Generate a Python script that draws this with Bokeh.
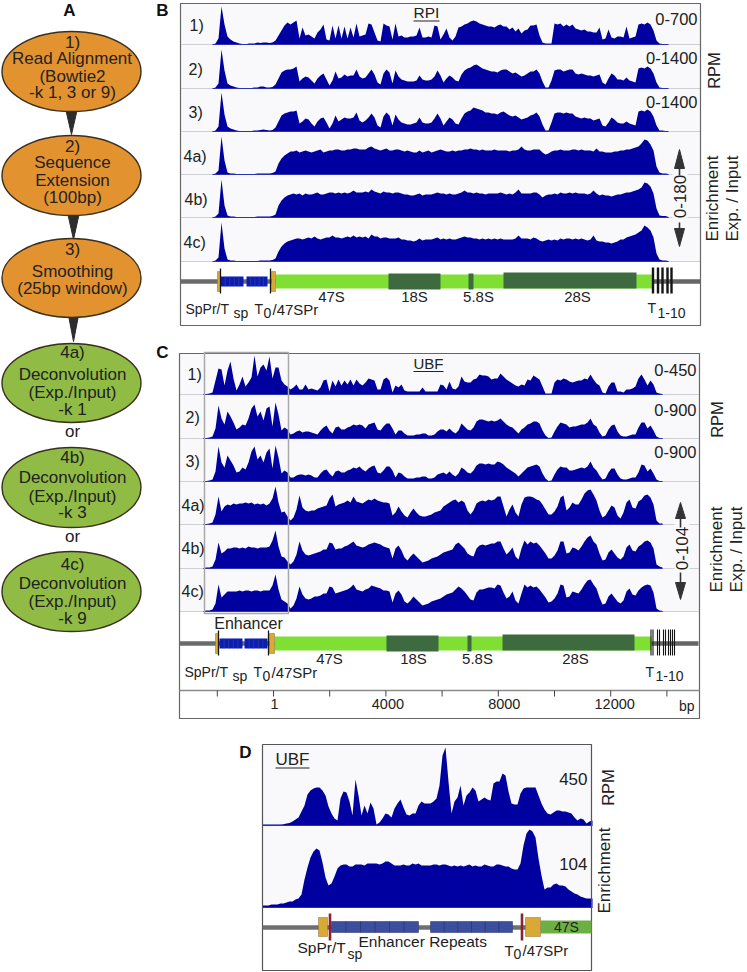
import numpy as np
from bokeh.core.properties import value
from bokeh.embed import file_html
from bokeh.models import Range1d
from bokeh.plotting import figure
from bokeh.resources import INLINE

# ---- signal tracks (height units, one value per bin)
B1 = [0,1,6,38,20,8,5,3,2,1,
 0.5,0,1,1,1,2,1.5,2,2,1.5,
 2,4,9,14,19,22,20,22,24,6,
 17,9,10,8,6,12,15,20,5,4,
 19,6,19,6,18,6,17,7,21,8,
 9,10,21,20,12,4,3,21,19,18,
 5,21,8,9,7,7,8,8,9,17,
 7,7,8,7,19,18,5,10,16,7,
 4,8,17,18,20,21,23,24,23,21,
 20,19,18,18,17,19,20,18,18,15,
 17,13,16,11,14,15,19,19,20,9,
 2,1,1,1,21,20,21,18,20,18,
 20,16,15,14,15,13,13,12,12,17,
 5,6,15,7,6,8,8,7,18,6,
 7,8,20,21,20,22,20,14,4,1,
 0.5,0.5,0]
B2 = [0,1,5,39,18,5,3,2,1,0.5,
 0.5,0,0.5,0.5,1,1,2,2,1,1,
 1.5,4,10,16,18,19,19,20,22,7,
 10,12,11,8,5,10,13,15,9,3,
 8,17,10,11,14,12,13,13,19,12,
 10,11,15,19,14,6,4,15,19,16,
 5,18,12,9,8,7,7,7,8,13,
 9,8,8,9,12,18,13,6,10,13,
 11,8,7,14,18,20,21,23,24,22,
 20,19,18,17,17,16,18,19,19,17,
 15,16,14,12,13,15,17,17,19,15,
 7,1,1,8,18,19,19,17,18,19,
 19,15,14,15,14,13,13,12,13,14,
 6,4,10,15,13,9,9,8,11,8,
 7,6,20,21,20,22,20,15,6,1,
 0.5,0.5,0]
B3 = [0,1,5,39,17,5,3,2,1,0.5,
 0.5,0,0.5,0.5,1,1,1.5,2,1.5,1,
 1.5,4,10,16,18,19,20,20,21,8,
 10,13,12,8,5,10,13,14,9,3,
 8,16,10,12,14,13,13,14,19,11,
 9,11,14,18,14,6,4,15,19,16,
 6,17,12,9,8,7,7,8,9,14,
 9,8,8,9,13,18,13,6,10,14,
 12,8,7,13,18,20,21,24,23,22,
 21,19,19,18,18,17,19,20,18,16,
 15,16,14,12,13,14,16,17,19,15,
 7,1,1,9,18,19,19,18,19,18,
 18,15,14,13,14,13,13,11,12,13,
 6,5,9,14,12,9,8,8,10,8,
 7,6,20,21,20,22,20,15,6,1,
 1,0.5,0]
B4A = [0,1,4,38,14,2,1,1,0.5,0.5,
 0.5,0.5,0.5,0.5,0.5,1,1,1,1,1,
 1.5,3,11,16,19,21,23,23,24,22,
 23,24,23,22,23,24,25,22,23,24,
 24,25,25,24,24,25,25,26,26,25,
 25,25,27,28,26,25,24,25,26,24,
 24,25,25,24,23,24,23,22,22,24,
 22,23,24,22,23,24,25,24,23,23,
 24,23,24,24,25,25,26,25,25,24,
 25,24,24,24,25,24,24,24,24,23,
 24,24,25,28,25,24,24,25,25,25,
 22,20,21,23,24,24,25,24,24,24,
 25,25,24,25,24,24,24,23,26,23,
 23,22,22,22,23,23,24,24,25,25,
 26,27,28,31,35,34,30,24,8,2,
 1,1,0.5]
B4B = [0,1,4,38,12,2,1,1,0.5,0.5,
 0.5,0.5,0.5,0.5,0.5,1,1,1,1,1,
 1.5,3,12,17,20,22,23,24,23,24,
 22,24,23,23,24,25,23,23,24,25,
 25,24,25,24,25,24,25,27,25,25,
 25,26,25,28,26,25,24,26,25,25,
 24,25,25,24,23,23,22,22,23,24,
 22,23,23,23,24,25,24,24,23,24,
 23,23,24,25,27,25,25,24,25,24,
 24,23,24,24,24,24,25,24,23,24,
 23,25,28,24,24,24,24,25,25,23,
 20,22,23,23,24,23,25,24,24,25,
 24,25,24,24,24,23,24,27,24,22,
 23,22,22,21,22,23,23,24,25,25,
 26,27,28,30,35,34,31,24,9,2,
 1.5,1.5,0.5]
B4C = [0,1,4,39,13,2,1,1,0.5,0.5,
 0.5,0.5,0.5,0.5,0.5,0.5,1,1,1,1,
 1.5,3,10,15,18,20,21,22,23,23,
 22,23,24,23,25,23,22,23,24,24,
 26,24,24,23,24,25,24,26,24,25,
 24,25,23,27,25,25,23,24,24,23,
 23,23,24,22,22,21,21,20,21,23,
 21,22,22,22,23,24,22,23,22,23,
 22,22,23,24,25,24,24,23,23,22,
 23,22,23,22,23,22,23,22,22,22,
 22,23,26,23,23,23,22,24,23,21,
 20,21,22,21,22,21,23,22,23,23,
 22,23,22,23,22,21,22,26,21,20,
 20,19,19,18,19,20,22,22,24,25,
 26,27,29,31,36,34,31,24,8,2,
 1,1,0.5]
C1 = [0.5,0.5,1,2,14,26,25,9,24,33,
 16,4,10,18,8,12,17,39,18,27,
 30,24,38,16,27,27,14,10,8,5,
 7,10,5,5,10,5,6,5,4,7,
 14,15,3,14,8,15,9,14,10,15,
 9,15,11,9,12,16,15,14,5,5,
 15,17,14,2,9,7,10,4,3,3,
 3,3,3,7,3,3,3,3,3,10,
 9,5,13,6,5,8,18,13,12,12,
 15,16,20,19,19,18,15,16,16,21,
 18,15,13,11,9,8,10,9,15,14,
 19,17,15,8,1,1,1,12,15,14,
 16,15,13,12,13,14,14,16,15,20,
 15,11,9,2,1,8,12,12,3,3,
 2,5,5,6,8,16,20,15,9,14,
 10,2,1,0.5]
C2 = [0.5,0.5,1,2,10,33,20,14,27,22,
 16,9,11,14,13,20,30,34,22,27,
 18,30,32,12,36,24,8,11,9,4,
 5,7,8,6,7,7,6,5,4,8,
 11,13,8,5,11,12,9,9,11,12,
 14,13,14,13,10,14,15,16,9,8,
 12,15,15,10,4,8,8,5,3,3,
 3,4,4,5,5,3,3,4,7,9,
 9,7,10,7,5,8,15,12,9,8,
 11,17,19,19,18,17,18,17,18,20,
 17,14,12,11,8,5,9,11,14,15,
 17,17,15,8,3,0.5,1,7,12,16,
 15,14,11,12,12,13,14,14,16,20,
 14,12,6,2,3,9,13,14,7,3,
 2,2,3,4,4,11,16,16,10,13,
 8,2,0.5,0.5]
C3 = [0.5,0.5,1,2,10,35,19,14,26,21,
 16,9,10,14,12,19,30,35,22,26,
 19,29,33,13,36,24,8,11,9,4,
 4,6,7,7,6,7,6,4,4,8,
 11,12,8,5,10,11,9,9,11,12,
 14,13,15,12,10,13,15,16,9,8,
 11,15,15,11,4,9,8,5,3,3,
 3,4,4,5,5,3,3,4,7,8,
 9,7,10,7,5,8,14,12,9,8,
 11,16,18,18,17,18,17,17,20,19,
 17,14,12,10,8,5,8,11,14,15,
 16,17,15,8,3,0.5,1,7,12,15,
 14,14,11,11,12,13,14,13,15,20,
 14,11,6,2,3,9,13,13,7,3,
 2,2,3,4,4,9,17,16,10,13,
 8,2,0.5,0.5]
C4A = [0.5,0.5,1,2,10,28,13,18,20,19,
 21,20,21,21,22,21,22,20,21,20,
 21,19,21,26,38,22,12,13,8,4,
 7,15,29,17,14,13,14,14,16,17,
 18,19,26,30,18,20,21,22,24,22,
 28,23,22,21,23,25,24,26,24,23,
 22,22,21,9,12,18,13,9,7,12,
 16,12,9,8,8,9,10,12,13,14,
 18,20,22,24,25,22,24,22,14,10,
 14,21,23,24,23,25,24,25,28,28,
 18,8,15,20,12,8,20,27,28,28,
 27,25,24,20,15,10,10,13,18,27,
 29,14,17,22,20,20,25,31,34,35,
 30,24,14,7,9,14,19,17,9,6,
 12,22,25,17,16,23,25,29,30,27,
 20,4,1,1]
C4B = [0.5,1,1,2,9,26,15,17,20,20,
 21,21,20,21,20,22,21,21,20,21,
 21,21,22,28,38,22,12,11,7,4,
 7,14,27,18,14,13,14,15,16,17,
 19,19,26,25,19,20,20,22,23,25,
 27,23,22,21,22,24,25,26,25,24,
 22,21,20,10,20,23,18,11,8,12,
 15,12,9,6,7,8,10,11,12,14,
 16,17,18,19,24,26,23,20,15,13,
 12,20,23,24,23,24,25,25,27,27,
 20,14,17,21,12,9,20,28,24,27,
 25,26,23,19,15,10,10,13,18,27,
 27,15,16,21,20,18,22,27,31,33,
 27,24,15,8,9,16,19,15,11,9,
 12,21,24,18,17,22,24,27,28,26,
 20,4,2,1]
C4C = [0.5,1,1,2,8,27,14,17,20,20,
 20,20,21,20,21,21,20,21,21,20,
 21,21,21,26,37,22,12,10,8,3,
 6,13,25,17,13,12,13,15,15,16,
 18,18,25,24,18,19,20,21,22,24,
 27,22,21,20,22,23,26,25,24,23,
 21,21,20,9,18,21,17,10,8,11,
 15,12,9,6,7,8,10,11,12,13,
 15,17,18,19,22,25,23,20,16,12,
 11,19,22,22,23,24,24,23,27,26,
 19,13,15,20,11,8,18,27,24,26,
 24,25,22,18,14,9,10,13,18,27,
 26,14,15,20,19,18,22,27,31,32,
 27,23,14,7,8,15,18,14,10,8,
 11,20,23,17,16,21,24,26,27,26,
 19,3,1,0.5]
D_RPM = [1,1,1,1,1,1,1,1.3,2,2.5,4,6,8,14,20,31,35,37,38,38,35,30,19,12,7,5,27,34,33,24,10,46,30,10,20,12,23,17,1,3,
 7,12,11,8,17,22,26,18,11,10,12,12,20,24,22,22,22,24,27,40,70,78,44,12,24,28,40,20,30,33,38,35,24,26,28,26,25,42,44,44,
 52,50,34,22,21,21,32,37,38,38,38,38,30,22,16,12,11,13,15,15,14,14,13,12,8,5,7,6,2,4,5]
D_ENR = [2,2,2,3,3,3,4,4,5,6,6,8,9,13,28,40,50,56,59,57,45,30,22,24,31,39,42,43,43,41,41,43,43,43,42,44,44,44,44,43,
 44,46,46,44,42,42,42,43,42,42,44,43,44,42,42,42,42,43,43,42,43,43,42,41,42,41,42,41,42,43,41,42,41,41,43,42,41,41,43,43,
 42,41,41,39,38,38,44,62,74,78,76,70,49,32,18,20,20,23,24,22,22,21,18,16,14,13,11,10,9,9,9]

B_LABELS = ["1)", "2)", "3)", "4a)", "4b)", "4c)"]
B_RANGES = ["0-700", "0-1400", "0-1400"]
C_RANGES = ["0-450", "0-900", "0-900"]
AXIS_TICKS_BP = [-2000, 1, 2000, 4000, 6000, 8000, 10000, 12000, 14000]
AXIS_LABELS = {1: "1", 4000: "4000", 8000: "8000", 12000: "12000"}

W, H = 747, 972
p = figure(width=W, height=H, x_range=Range1d(0, W), y_range=Range1d(H, 0),
           x_axis_type=None, y_axis_type=None, toolbar_location=None,
           output_backend="svg", min_border=0, outline_line_color=None,
           background_fill_color="white", border_fill_color="white")
p.grid.visible = False

FONT = value("Liberation Sans")
INK = "#222222"
BLUE = "#0000a0"
GREEN = "#7fe033"
DKGREEN = "#3d6b3f"
YELLOW = "#d9a935"
BG = "#f9f9fb"


def t(x, y, s, size=14, align="left", base="alphabetic", bold=False, angle=0, color=INK):
    # y is the baseline ("alphabetic") or the visual centre ("middle") of the text
    yy = y - 0.36 * size if base == "alphabetic" else y
    if base == "middle" and angle == 0:
        yy = y - 2
    p.text(x=[x], y=[yy], text=[s], text_font=FONT, text_font_size=f"{size}px",
           text_align=align, text_baseline="middle", angle=angle, text_color=color,
           text_font_style="bold" if bold else "normal")


def box(l, r, top, bot, color, line=None, lw=1, alpha=1.0):
    p.quad(left=[l], right=[r], top=[top], bottom=[bot], fill_color=color, fill_alpha=alpha,
           line_color=line, line_width=lw)


def frame(l, r, top, bot, color, lw=1.2):
    p.quad(left=[l], right=[r], top=[top], bottom=[bot], fill_color=None,
           line_color=color, line_width=lw)


def seg(x0, y0, x1, y1, color, lw=1.0):
    p.segment(x0=[x0], y0=[y0], x1=[x1], y1=[y1], line_color=color, line_width=lw)


def track(vals, x0, step, base):
    v = np.asarray(vals, dtype=float)
    x = x0 + step * np.arange(len(v))
    p.varea(x=x, y1=np.full(len(v), base), y2=base - v, fill_color=BLUE)
    seg(x[0], base, x[-1], base, "#2a30b0", 1)


def arrow(x, tip, neck, end, color="#333333"):
    p.patch(x=[x - 5, x + 5, x], y=[neck, neck, tip], fill_color=color, line_color=color)
    seg(x, neck, x, end, color, 1.6)


# ---- Panel A: flow chart
ORANGE, LEAF = "#e39230", "#90bb45"
ELLIPSES = [(71, 71, 80, ORANGE), (71, 175, 80, ORANGE), (71, 277.5, 79, ORANGE),
            (71, 382.5, 79, LEAF), (71, 487, 80, LEAF), (71, 591, 80, LEAF)]
for (tx, ty0, ty1, half) in [(71, 108, 134, 6), (73, 212, 239, 6), (73, 315, 341, 5)]:
    p.patch(x=[tx - half, tx + half, tx], y=[ty0, ty0, ty1], fill_color="#2d2d2d", line_color="#2d2d2d")
for cx, cy, hh, col in ELLIPSES:
    p.ellipse(x=[cx], y=[cy], width=[139], height=[hh], fill_color=col, line_color="#3a3020", line_width=1.4)
FLOW = [(48, "1)"), (64, "Read Alignment"), (82, "(Bowtie2"), (98, "-k 1, 3 or 9)"),
        (152, "2)"), (168, "Sequence"), (186, "Extension"), (203, "(100bp)"),
        (255, "3)"), (277, "Smoothing"), (294, "(25bp window)"),
        (358, "4a)"), (380, "Deconvolution"), (398, "(Exp./Input)"), (415, "-k 1"),
        (437, "or"),
        (463, "4b)"), (483, "Deconvolution"), (502, "(Exp./Input)"), (518, "-k 3"),
        (542, "or"),
        (570, "4c)"), (589, "Deconvolution"), (607, "(Exp./Input)"), (624, "-k 9")]
for y, s in FLOW:
    t(72, y, s, 17, "center")
t(69, 16, "A", 17, "center", bold=True, color="#111111")
t(162, 16, "B", 17, "center", bold=True, color="#111111")
t(162, 358, "C", 17, "center", bold=True, color="#111111")
t(245, 758, "D", 17, "center", bold=True, color="#111111")


def schematic(cy, xs, dy=0):
    """Gene model: xs holds the feature edges of this panel."""
    seg(xs["l"], cy, xs["green"][0], cy, "#6b6b6b", 4.5)
    seg(xs["green"][1], cy, xs["r"], cy, "#666666", 4.5)
    box(xs["green"][0], xs["green"][1], cy - 7, cy + 7, GREEN)
    for a, b, off in xs["dark"]:
        box(a, b, cy - 8 + off, cy + 8 + off, DKGREEN)
    for a, b in xs["blue"]:
        box(a, b, cy - 5, cy + 5, "#0a1cb4")
        for d in np.linspace(a, b, 6)[1:-1]:
            seg(d, cy - 5, d, cy + 5, "#3a4a90", 0.6)
    box(xs["y1"][0], xs["y1"][1], cy - 10, cy + 10, YELLOW, "#8a7040", 0.5)
    box(xs["y2"][0], xs["y2"][1], cy - 10, cy + 10, YELLOW, "#8a7040", 0.5)
    for b in xs["bars"]:
        seg(b, cy - 13, b, cy + 12, "#151515", 1.3)
    for b in xs["T"]:
        seg(b, cy - 14, b, cy + 12, "#151515", xs["Tw"])


# ---- Panel B
box(180, 700, 3, 261, BG)
for yb in [44, 88, 131, 174, 217, 261]:
    seg(180, yb, 700, yb, "#cfcfd6", 1)
for vals, yb in zip([B1, B2, B3, B4A, B4B, B4C], [44, 88, 131, 174, 217, 261]):
    track(vals, 212, 3, yb)
frame(180, 700, 3, 325, "#666666")
schematic(281, dict(l=180, r=700, green=(275, 652), dark=[(388, 440, 0), (468, 473, 0), (503, 636, -1)],
                    blue=[(220, 243), (246, 267)], y1=(217, 220), y2=(271, 275), bars=[220, 270],
                    T=[652.5, 657.5, 662, 667, 671], Tw=2.4))
for s, x, y in zip(B_LABELS, [189, 188, 188, 183, 184, 183], [27, 71, 114, 158, 201, 244]):
    t(x, y, s, 16, "left", "middle")
for s, y in zip(B_RANGES, [20, 59, 103]):
    t(697, y, s, 16.5, "right", "middle")
t(413, 18, "RPI", 15.5)
seg(413, 20.5, 439, 20.5, INK, 1)
t(713, 70, "RPM", 16.5, "center", "middle", angle=np.pi / 2)
t(712, 198, "Enrichment", 17, "center", "middle", angle=np.pi / 2)
t(732, 198, "Exp. / Input", 17, "center", "middle", angle=np.pi / 2)
box(672, 687, 172, 222, BG)
t(679, 196, "0-180", 17, "center", "middle", angle=np.pi / 2)
arrow(679, 149, 168, 175)
arrow(679, 246, 228, 222)
t(185, 314, "SpPr/T", 14)
t(233, 318, "sp", 14)
t(254, 314, "T", 14)
t(263, 318, "0", 14)
t(272, 314, "/47SPr", 15)
t(331, 301, "47S", 15, "center")
t(414, 301, "18S", 15, "center")
t(478, 301, "5.8S", 15, "center")
t(577, 301, "28S", 15, "center")
t(647, 313, "T", 14)
t(657, 318, "1-10", 14)

# ---- Panel C
box(179, 699, 353, 611, BG)
for yb in [394, 438, 481, 524, 568, 611]:
    seg(179, yb, 699, yb, "#cfcfd6", 1)
for vals, yb in zip([C1, C2, C3, C4A, C4B, C4C], [394, 438, 481, 524, 568, 611]):
    track(vals, 203, 3, yb)
frame(179, 699, 353, 718, "#666666")
frame(204, 288, 352, 613, "#a8a8a8", 1.5)
schematic(643, dict(l=179, r=698, green=(274, 651), dark=[(386, 438, 0), (467, 471, 0), (502, 634, -1)],
                    blue=[(219, 242), (244, 267)], y1=(215, 218), y2=(269, 274), bars=[218, 268],
                    T=[650.5, 652.5, 657, 659, 663, 665, 668, 670, 672, 674], Tw=1.1))
for s, x, y in zip(B_LABELS, [187, 185, 185, 181, 181, 181], [376, 419, 463, 507, 550, 593]):
    t(x, y, s, 16, "left", "middle")
for s, y in zip(C_RANGES, [371, 411, 453]):
    t(696, y, s, 16.5, "right", "middle")
t(413, 368, "UBF", 15)
seg(413, 371, 443, 371, INK, 1)
t(716, 419, "RPM", 16.5, "center", "middle", angle=np.pi / 2)
t(716, 549, "Enrichment", 17, "center", "middle", angle=np.pi / 2)
t(736, 549, "Exp. / Input", 17, "center", "middle", angle=np.pi / 2)
box(674, 689, 522, 574, BG)
t(681, 548, "0-104", 17, "center", "middle", angle=np.pi / 2)
arrow(680, 502, 518, 527)
arrow(680, 599, 582, 572)
t(248, 629, "Enhancer", 16, "center")
t(184, 677, "SpPr/T", 14)
t(232, 681, "sp", 14)
t(253, 677, "T", 14)
t(262, 681, "0", 14)
t(271, 677, "/47SPr", 15)
t(329, 663, "47S", 15, "center")
t(413, 663, "18S", 15, "center")
t(477, 663, "5.8S", 15, "center")
t(575, 663, "28S", 15, "center")
t(645, 677, "T", 14)
t(655, 681, "1-10", 14)
# bp axis of panel C
seg(179, 690, 699, 690, "#8a8a8a", 1.4)
PX_PER_BP, X_AT_ZERO = 0.0281, 273.0
for bp in AXIS_TICKS_BP:
    xt = X_AT_ZERO + bp * PX_PER_BP
    seg(xt, 690, xt, 696, "#444444", 1)
    if bp in AXIS_LABELS:
        off = {1: 1, 4000: 2, 8000: 6, 12000: 4}[bp]
        t(xt + off, 709, AXIS_LABELS[bp], 14.5, "center")
t(694, 711, "bp", 14, "right")

# ---- Panel D
box(262, 591, 744, 907, BG)
seg(262, 825, 591, 825, "#cfcfd6", 1)
track(D_RPM, 262, 3, 825)
track(D_ENR, 262, 3, 907)
frame(262, 591, 744, 970, "#555555")
cy = 927
seg(262, cy, 540, cy, "#6f6f6f", 4.5)
box(540, 591, 920, 933, "#6cb043")
box(318, 327, 917, 936, YELLOW, "#8a7040", 0.5)
box(525, 540, 917, 936, YELLOW, "#8a7040", 0.5)
for a, b in [(331, 418), (430, 512)]:
    box(a, b, 921, 932, "#3b4f9e", "#39406e", 0.6)
    for d in np.linspace(a, b, 7)[1:-1]:
        seg(d, 921, d, 932, "#2a3570", 0.7)
for xr in [329.5, 521.5]:
    seg(xr, 913, xr, 940, "#8b2030", 2.6)
t(566, 932, "47S", 14, "center")
t(275, 765, "UBF", 17)
seg(275, 767.5, 309, 767.5, INK, 1)
t(587, 780, "450", 17, "right", "middle")
t(587, 865, "104", 17, "right", "middle")
t(607, 787, "RPM", 16.5, "center", "middle", angle=np.pi / 2)
t(604, 870, "Enrichment", 17, "center", "middle", angle=np.pi / 2)
t(297, 953, "SpPr/T", 15.5)
t(347, 959, "sp", 14)
t(358, 947, "Enhancer Repeats", 15.5)
t(504, 955, "T", 15)
t(513, 959, "0", 14)
t(522, 955, "/47SPr", 15)

open("out.html", "w").write(file_html(p, INLINE))
